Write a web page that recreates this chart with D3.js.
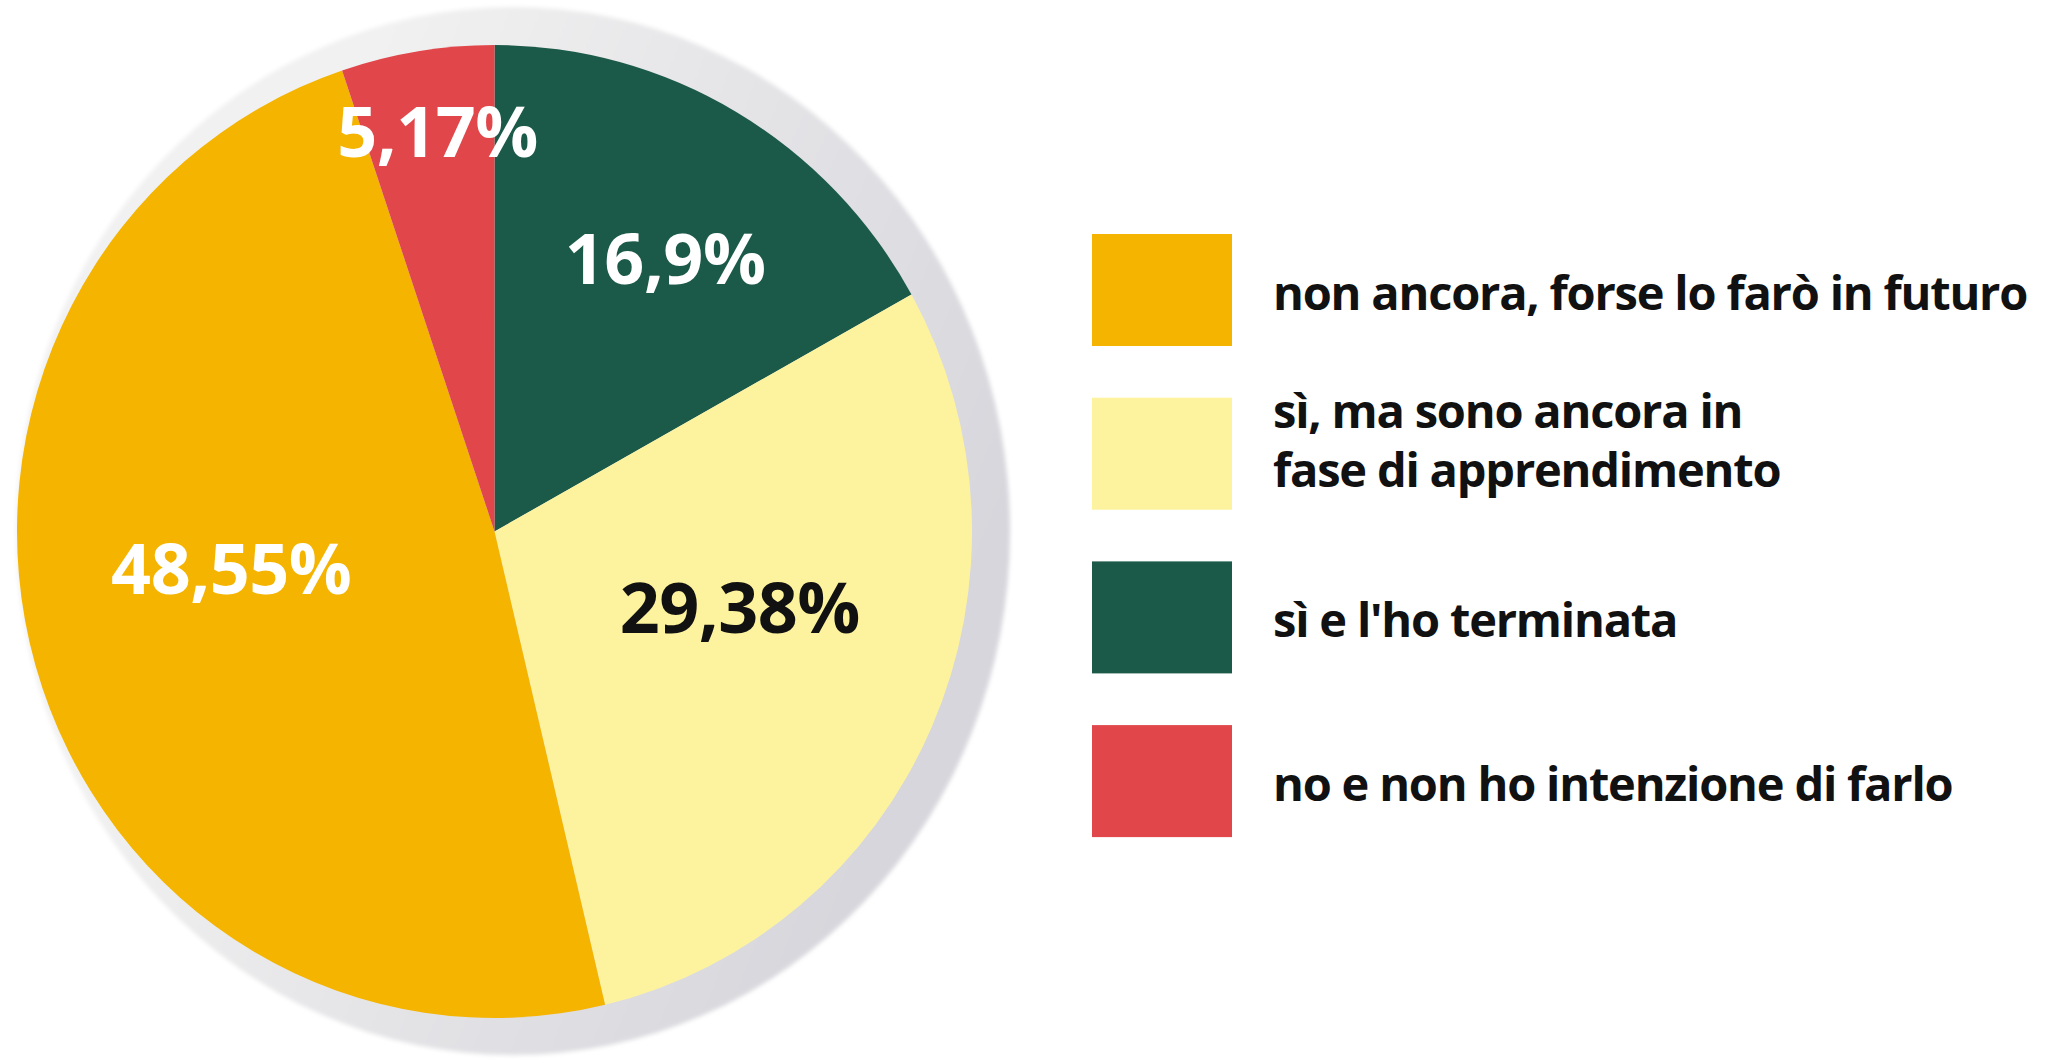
<!DOCTYPE html>
<html>
<head>
<meta charset="utf-8">
<script src="https://cdn.jsdelivr.net/npm/d3@7"></script>
<style>
  html, body { margin: 0; padding: 0; background: #fff; }
  svg { display: block; }
</style>
</head>
<body>
<script>
// data, in drawing order (clockwise from 12 o'clock)
const categories = ["sì e l'ho terminata", "sì, ma sono ancora in fase di apprendimento", "non ancora, forse lo farò in futuro", "no e non ho intenzione di farlo"];
const values = [16.9, 29.38, 48.55, 5.17];
const valueLabels = ["16,9%", "29,38%", "48,55%", "5,17%"];
const legendOrder = [2, 1, 0, 3];
const legendLines = [["sì e l'ho terminata"], ["sì, ma sono ancora in", "fase di apprendimento"], ["non ancora, forse lo farò in futuro"], ["no e non ho intenzione di farlo"]];

const colors = ["#1b5a48", "#fdf39f", "#f4b400", "#e0464a"];
const labelColors = ["#fff", "#111", "#fff", "#fff"];
// where the label sits inside its slice: share of the slice's angle, distance from centre
const labelAngleFrac = [0.526, 0.44, 0.545, 0.565];
const labelRadius = [322, 257, 266, 404];

const width = 2054, height = 1062;
const cx = 494.5, cy = 531.5, radius = 486.5, squeezeX = 0.9815;

const svg = d3.select("body").append("svg")
    .attr("width", width)
    .attr("height", height);

const defs = svg.append("defs");
const grad = defs.append("linearGradient")
    .attr("id", "shade")
    .attr("x1", "0.3").attr("y1", "0.2")
    .attr("x2", "1").attr("y2", "0.5");
grad.append("stop").attr("offset", "0").attr("stop-color", "#f1f1f1");
grad.append("stop").attr("offset", "1").attr("stop-color", "#d6d6dc");
defs.append("filter").attr("id", "soft")
    .append("feGaussianBlur").attr("stdDeviation", 2);

// grey rim behind the pie (sits off to the right)
svg.append("ellipse")
    .attr("cx", 513)
    .attr("cy", 531)
    .attr("rx", 497)
    .attr("ry", 524)
    .attr("fill", "url(#shade)")
    .attr("filter", "url(#soft)");

const pie = d3.pie().sort(null).value(d => d);
const arcs = pie(values);
const arc = d3.arc().innerRadius(0).outerRadius(radius);

const slices = svg.append("g")
    .attr("transform", `translate(${cx},${cy}) scale(${squeezeX},1)`);

slices.selectAll("path.slice")
    .data(arcs)
    .enter().append("path")
    .attr("class", "slice")
    .attr("d", arc)
    .attr("fill", (d, i) => colors[i]);

const labels = svg.append("g").attr("transform", `translate(${cx},${cy})`);

labels.selectAll("text.pct")
    .data(arcs)
    .enter().append("text")
    .attr("class", "pct")
    .attr("transform", (d, i) => {
        const a = d.startAngle + (d.endAngle - d.startAngle) * labelAngleFrac[i];
        const r = labelRadius[i];
        return `translate(${Math.sin(a) * r},${-Math.cos(a) * r})`;
    })
    .attr("text-anchor", "middle")
    .attr("dy", "0.36em")
    .attr("font-family", "'Open Sans', sans-serif")
    .attr("font-weight", 700)
    .attr("font-size", 70)
    .attr("letter-spacing", -0.5)
    .attr("fill", (d, i) => labelColors[i])
    .text((d, i) => valueLabels[i]);

// legend
const legendY = d3.scaleBand()
    .domain(legendOrder)
    .range([234, 234 + 163.7 * 4]);

const legend = svg.append("g").attr("class", "legend");
const item = legend.selectAll("g.item")
    .data(legendOrder)
    .enter().append("g")
    .attr("class", "item")
    .attr("transform", d => `translate(1092,${legendY(d)})`);

item.append("rect")
    .attr("width", 140)
    .attr("height", 112)
    .attr("fill", d => colors[d]);

item.append("text")
    .attr("y", 56)
    .attr("font-family", "'Open Sans', sans-serif")
    .attr("font-weight", 700)
    .attr("font-size", 47)
    .attr("letter-spacing", -1.2)
    .attr("fill", "#111")
    .each(function (d) {
        const lines = legendLines[d];
        const t = d3.select(this);
        lines.forEach((ln, k) => {
            t.append("tspan")
                .attr("x", 181)
                .attr("dy", k === 0 ? `${0.42 - (lines.length - 1) * 0.97}em` : "1.25em")
                .text(ln);
        });
    });
</script>
</body>
</html>
